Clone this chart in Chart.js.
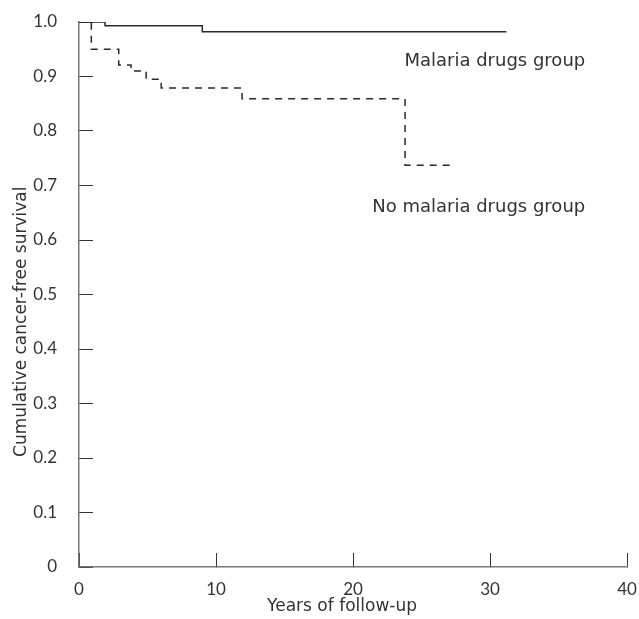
<!DOCTYPE html>
<html>
<head>
<meta charset="utf-8">
<script src="https://cdn.jsdelivr.net/npm/chart.js@4.4.1/dist/chart.umd.min.js"></script>
<style>
    html, body { margin: 0; padding: 0; background: #fff; }
    #wrap { width: 639px; height: 619px; }
</style>
</head>
<body>
<div id="wrap"><canvas id="chart"></canvas></div>
<script>
// Kaplan-Meier style curves
const malariaYears = [0, 1.9, 9.0, 31.2];
const malariaSurvival = [1.0, 0.993, 0.982, 0.982];

const noMalariaYears = [0, 0.9, 2.9, 3.8, 4.9, 6.0, 11.9, 23.8, 27.4];
const noMalariaSurvival = [1.0, 0.950, 0.921, 0.910, 0.895, 0.879, 0.859, 0.737, 0.737];

const xTicks = [0, 10, 20, 30, 40];
const yTicks = [0, 0.1, 0.2, 0.3, 0.4, 0.5, 0.6, 0.7, 0.8, 0.9, 1.0];

const seriesLabels = ['Malaria drugs group', 'No malaria drugs group'];
const xTitle = 'Years of follow-up';
const yTitle = 'Cumulative cancer-free survival';

const tickFont = 'Lato, "DejaVu Sans", sans-serif';
const labelFont = '"DejaVu Sans", sans-serif';
const textColor = '#333';

const toPoints = (xs, ys) => xs.map((x, i) => ({ x: x, y: ys[i] }));

// draws the in-plot group labels and the two axis titles
const textPlugin = {
    id: 'textLabels',
    afterDraw(chart) {
        const ctx = chart.ctx;
        const xs = chart.scales.x, ys = chart.scales.y;
        ctx.save();
        ctx.fillStyle = textColor;
        ctx.font = '18px ' + labelFont;
        ctx.textAlign = 'right';
        ctx.textBaseline = 'middle';
        ctx.fillText(seriesLabels[0], xs.getPixelForValue(36.95), ys.getPixelForValue(0.927));
        ctx.fillText(seriesLabels[1], xs.getPixelForValue(36.95), ys.getPixelForValue(0.660));

        ctx.font = '17px ' + labelFont;
        ctx.textAlign = 'center';
        ctx.fillText(xTitle, xs.getPixelForValue(19.2), 607);

        ctx.translate(22, ys.getPixelForValue(0.45));
        ctx.rotate(-Math.PI / 2);
        ctx.fillText(yTitle, 0, 0);
        ctx.restore();
    }
};

const ctx = document.getElementById('chart').getContext('2d');

new Chart(ctx, {
    type: 'line',
    data: {
        datasets: [
            {
                label: seriesLabels[0],
                data: toPoints(malariaYears, malariaSurvival),
                borderColor: '#2a2a2a',
                borderWidth: 1.5,
                stepped: 'before',
                pointRadius: 0,
                fill: false,
            },
            {
                label: seriesLabels[1],
                data: toPoints(noMalariaYears, noMalariaSurvival),
                borderColor: '#2a2a2a',
                borderWidth: 1.5,
                borderDash: [7, 6],
                stepped: 'before',
                pointRadius: 0,
                fill: false,
            }
        ]
    },
    options: {
        responsive: true,
        maintainAspectRatio: false,
        animation: false,
        layout: { padding: { top: 22, right: 12, left: 0, bottom: 0 } },
        plugins: {
            legend: { display: false },
            tooltip: { enabled: false },
        },
        scales: {
            x: {
                type: 'linear',
                min: 0,
                max: 40,
                afterBuildTicks: (scale) => { scale.ticks = xTicks.map(v => ({ value: v })); },
                afterFit: (scale) => {
                    scale.height = 52;
                    scale.paddingLeft = 0;
                    scale.paddingRight = 0;
                },
                border: { display: true, color: '#777', width: 1.5 },
                grid: {
                    drawOnChartArea: false,
                    drawTicks: true,
                    tickLength: -14,
                    color: '#333',
                    lineWidth: 1,
                },
                ticks: {
                    padding: 26,
                    color: textColor,
                    font: { family: tickFont, size: 17 },
                    maxRotation: 0,
                },
            },
            y: {
                type: 'linear',
                min: 0,
                max: 1,
                afterBuildTicks: (scale) => { scale.ticks = yTicks.map(v => ({ value: v })); },
                afterFit: (scale) => {
                    scale.width = 79;
                    scale.paddingTop = 0;
                    scale.paddingBottom = 0;
                },
                border: { display: true, color: '#777', width: 1.5 },
                grid: {
                    drawOnChartArea: false,
                    drawTicks: true,
                    tickLength: -14,
                    color: '#333',
                    lineWidth: 1,
                },
                ticks: {
                    padding: 36,
                    color: textColor,
                    font: { family: tickFont, size: 17 },
                    callback: (val) => val === 0 ? '0' : val.toFixed(1),
                },
            },
        }
    },
    plugins: [textPlugin]
});
</script>
</body>
</html>
